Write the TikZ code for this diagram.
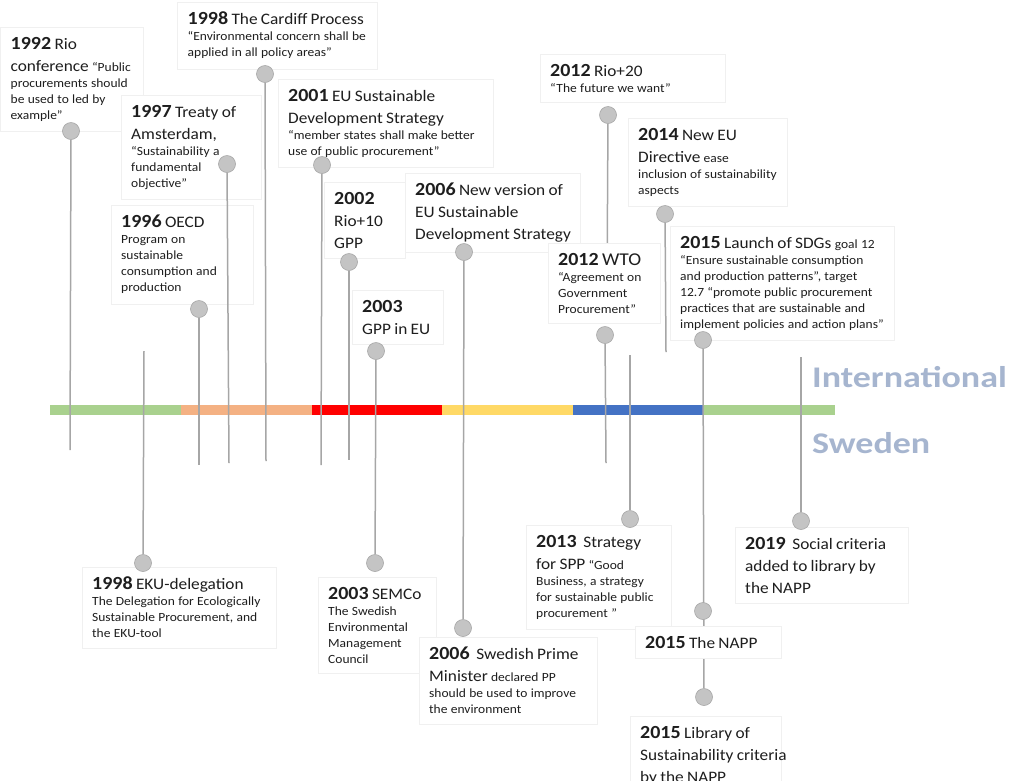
\documentclass[tikz,border=0pt]{standalone}
\usepackage{fontspec}
\setmainfont{Carlito}[FakeStretch=1.08]
\newfontfamily\sidefont{Carlito}[FakeStretch=1.2]
\usetikzlibrary{positioning}
\definecolor{BARGREEN}{RGB}{169,209,142}
\definecolor{BARORANGE}{RGB}{244,177,131}
\definecolor{BARRED}{RGB}{255,0,0}
\definecolor{BARYELLOW}{RGB}{255,217,102}
\definecolor{BARBLUE}{RGB}{68,114,196}
\definecolor{SIDE}{RGB}{166,181,207}
\definecolor{PIN}{RGB}{196,196,196}
\definecolor{STEM}{RGB}{166,166,166}
\definecolor{TXT}{RGB}{30,30,30}

\newcommand{\yr}[1]{{\fontsize{18.5}{22}\selectfont\bfseries #1}}
\newcommand{\bigln}[1]{{\fontsize{16}{22}\selectfont\mbox{#1}\par}}
\newcommand{\smln}[1]{{\fontsize{12.5}{16}\selectfont\mbox{#1}\par}}
\newcommand{\sm}[1]{{\fontsize{12.5}{16}\selectfont #1}}

\pgfdeclarelayer{bg}
\pgfdeclarelayer{mid}
\pgfsetlayers{bg,mid,main}

\tikzset{
  evbox/.style={draw=black!6, fill=white, anchor=north west, inner xsep=10.5pt, inner ysep=10pt, text=TXT, align=left},
  pin/.style={circle, fill=PIN, draw=STEM, line width=0.6pt, minimum size=17pt, inner sep=0pt},
  stem/.style={draw=STEM, line width=1.5pt},
  side/.style={text=SIDE, font=\sidefont\fontsize{30}{34}\selectfont\bfseries, anchor=west, inner sep=0pt}
}

\begin{document}
\begin{tikzpicture}[x=1pt, y=-1pt]
\useasboundingbox (0,0) rectangle (1014,780);

% event boxes
\begin{pgfonlayer}{mid}
% international
\node[evbox, text width=122pt] (rio92) at (0,27) {%
  \bigln{\yr{1992} Rio}
  \bigln{conference \sm{“Public}}
  \smln{procurements should}
  \smln{be used to led by}
  \smln{example”}};
\node[evbox, text width=179pt] (cardiff) at (177,2) {%
  \bigln{\yr{1998} The Cardiff Process}
  \smln{“Environmental concern shall be}
  \smln{applied in all policy areas”}};
\node[evbox, text width=119pt] (amst) at (120.5,95) {%
  \bigln{\yr{1997} Treaty of}
  \bigln{Amsterdam,}
  \smln{“Sustainability a}
  \smln{fundamental}
  \smln{objective”}};
\node[evbox, text width=121pt] (oecd) at (110.5,205) {%
  \bigln{\yr{1996} OECD}
  \smln{Program on}
  \smln{sustainable}
  \smln{consumption and}
  \smln{production}};
\node[evbox, text width=194pt] (eusds) at (277.5,79) {%
  \bigln{\yr{2001} EU Sustainable}
  \bigln{Development Strategy}
  \smln{“member states shall make better}
  \smln{use of public procurement”}};
\node[evbox, text width=60pt] (rio10) at (323.5,182) {%
  \bigln{\yr{2002}}
  \bigln{Rio+10}
  \bigln{GPP}};
\node[evbox, text width=70pt] (gppeu) at (351.5,290) {%
  \bigln{\yr{2003}}
  \bigln{GPP in EU}};
\node[evbox, text width=154pt] (newsds) at (404.5,173) {%
  \bigln{\yr{2006} New version of}
  \bigln{EU Sustainable}
  \bigln{Development Strategy}};
\node[evbox, text width=164pt] (rio20) at (539.5,54) {%
  \bigln{\yr{2012} Rio+20}
  \smln{“The future we want”}};
\node[evbox, text width=91pt] (wto) at (547.5,243) {%
  \bigln{\yr{2012} {\fontsize{18}{22}\selectfont WTO}}
  \smln{“Agreement on}
  \smln{Government}
  \smln{Procurement”}};
\node[evbox, text width=138pt] (dir14) at (627.5,118) {%
  \bigln{\yr{2014} New EU}
  \bigln{Directive \sm{ease}}
  \smln{inclusion of sustainability}
  \smln{aspects}};
\node[evbox, text width=203pt] (sdg) at (669.5,226) {%
  \bigln{\yr{2015} Launch of SDGs \sm{goal 12}}
  \smln{“Ensure sustainable consumption}
  \smln{and production patterns”, target}
  \smln{12.7 “promote public procurement}
  \smln{practices that are sustainable and}
  \smln{implement policies and action plans”}};
% sweden
\node[evbox, text width=173pt] (eku) at (81.5,567) {%
  \bigln{\yr{1998} EKU-delegation}
  \smln{The Delegation for Ecologically}
  \smln{Sustainable Procurement, and}
  \smln{the EKU-tool}};
\node[evbox, text width=97pt] (semco) at (317.5,577) {%
  \bigln{\yr{2003} SEMCo}
  \smln{The Swedish}
  \smln{Environmental}
  \smln{Management}
  \smln{Council}};
\node[evbox, text width=157pt] (pm06) at (418.5,637) {%
  \bigln{\yr{2006}\ \ Swedish Prime}
  \bigln{Minister \sm{declared PP}}
  \smln{should be used to improve}
  \smln{the environment}};
\node[evbox, text width=124pt] (spp13) at (525.5,525) {%
  \bigln{\yr{2013}\ \ Strategy}
  \bigln{for SPP \sm{“Good}}
  \smln{Business, a strategy}
  \smln{for sustainable public}
  \smln{procurement ”}};
\node[evbox, text width=125pt] (napp) at (634.5,626) {%
  \bigln{\yr{2015} The NAPP}};
\node[evbox, text width=130pt] (lib15) at (629.5,716) {%
  \bigln{\yr{2015} Library of}
  \bigln{Sustainability criteria}
  \bigln{by the NAPP}};
\node[evbox, text width=152pt] (soc19) at (734.5,527) {%
  \bigln{\yr{2019}\ \ Social criteria}
  \bigln{added to library by}
  \bigln{the NAPP}};
\end{pgfonlayer}

% pins
\node[pin] (p92) at (71,131) {};
\node[pin] (p97) at (227,164) {};
\node[pin] (p98c) at (265,74) {};
\node[pin] (p96) at (199,309) {};
\node[pin] (p01) at (322,165) {};
\node[pin] (p02) at (349,262) {};
\node[pin] (p03g) at (376,351) {};
\node[pin] (p06n) at (464,252) {};
\node[pin] (p12r) at (608,115) {};
\node[pin] (p12w) at (605,335) {};
\node[pin] (p14) at (665,214) {};
\node[pin] (p15s) at (703,340) {};
\node[pin] (p98e) at (143,563) {};
\node[pin] (p03s) at (375,563) {};
\node[pin] (p06p) at (463,628) {};
\node[pin] (p13) at (630,519) {};
\node[pin] (p15n) at (703,611) {};
\node[pin] (p15l) at (704,697) {};
\node[pin] (p19) at (801,521) {};

% free ends of the stems
\coordinate (e92) at (70,450);
\coordinate (e97) at (229,463);
\coordinate (e98c) at (266,461);
\coordinate (e96) at (199,465);
\coordinate (e01) at (321,465);
\coordinate (e02) at (349,460);
\coordinate (e12r) at (607,290);
\coordinate (e12w) at (606,463);
\coordinate (e14) at (666,352);
\coordinate (e98e) at (144,351);
\coordinate (e13) at (630,355);
\coordinate (e19) at (801,357);

\begin{pgfonlayer}{bg}
% time bar
\foreach \c [count=\i from 0] in {BARGREEN,BARORANGE,BARRED,BARYELLOW,BARBLUE,BARGREEN}
  \fill[\c] ({50+\i*130.8},405) rectangle ++(130.8,10);
\draw[stem] (p92) -- (e92);
\draw[stem] (p98c) -- (e98c);
\draw[stem] (p96) -- (e96);
\draw[stem] (p01) -- (e01);
\draw[stem] (p02) -- (e02);
\draw[stem] (p03g) -- (p03s);
\draw[stem] (p06n) -- (p06p);
\draw[stem] (p12r) -- (e12r);
\draw[stem] (p12w) -- (e12w);
\draw[stem] (p14) -- (e14);
\draw[stem] (p15s) -- (p15l);
\draw[stem] (p98e) -- (e98e);
\draw[stem] (p13) -- (e13);
\draw[stem] (p19) -- (e19);
\end{pgfonlayer}
\draw[stem] (p97) -- (e97);

\node[side] (intl) at (812,377) {International};
\node[side] (swe) at (812,443) {Sweden};
\end{tikzpicture}
\end{document}
